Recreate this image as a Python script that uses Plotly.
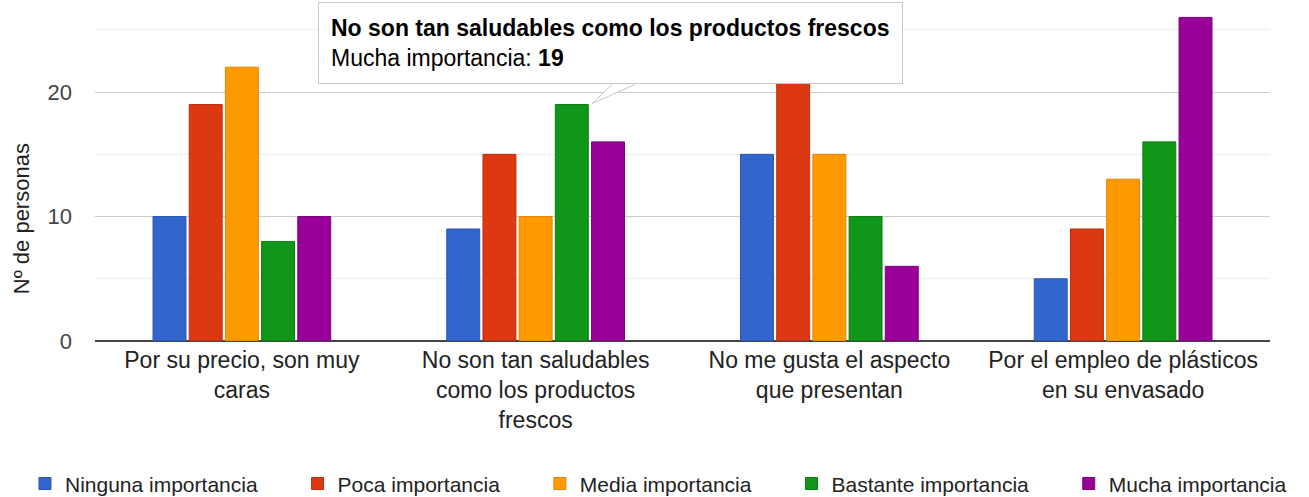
import plotly.graph_objects as go

categories = [
    "Por su precio, son muy<br>caras",
    "No son tan saludables<br>como los productos<br>frescos",
    "No me gusta el aspecto<br>que presentan",
    "Por el empleo de plásticos<br>en su envasado",
]
series_names = ["Ninguna importancia", "Poca importancia", "Media importancia",
                "Bastante importancia", "Mucha importancia"]
ninguna = [10, 9, 15, 5]
poca = [19, 15, 21, 9]
media = [22, 10, 15, 13]
bastante = [8, 19, 10, 16]
mucha = [10, 16, 6, 26]
series_values = [ninguna, poca, media, bastante, mucha]
colors = ["#3366cc", "#dc3912", "#ff9900", "#109618", "#990099"]
edge_colors = ["#2a55b0", "#b92e0e", "#e08700", "#0b7c12", "#7d007d"]
y_ticks = [0, 10, 20]

PAD = "\u00a0" * 6  # extra spacing between legend entries

fig = go.Figure()
n_series = len(series_names)
for i, (name, vals, c, ec) in enumerate(zip(series_names, series_values, colors, edge_colors)):
    fig.add_trace(go.Bar(
        x=categories, y=vals, name=name + (PAD if i < n_series - 1 else ""),
        hovertemplate=name + ": %{y}<extra></extra>",
        marker=dict(color=c, line=dict(color=ec, width=1)),
    ))

font_family = "Arial, Liberation Sans, Helvetica, sans-serif"

# tooltip callout pointing at the green bar of the 2nd category
tip_x = 1.192
tip_y = bastante[1]
fig.add_shape(
    type="path", xref="x", yref="y",
    xsizemode="pixel", ysizemode="pixel",
    xanchor=tip_x, yanchor=tip_y,
    path="M 20,20 L 0,1 L 43,20",
    fillcolor="white", line=dict(color="#c8c8c8", width=1), layer="above",
)
fig.add_annotation(
    xref="paper", yref="paper", x=0.1898, y=0.754,
    xanchor="left", yanchor="bottom", align="left",
    text="<b>No son tan saludables como los productos frescos</b><br>Mucha importancia: <b>19</b>",
    showarrow=False, bgcolor="white", bordercolor="#c8c8c8", borderwidth=1,
    borderpad=12, font=dict(family=font_family, size=23, color="#000"),
)

# y-axis title
fig.add_annotation(
    xref="paper", yref="paper", x=-0.063, y=0.36,
    xanchor="center", yanchor="middle",
    text="Nº de personas", textangle=-90, showarrow=False,
    font=dict(family=font_family, size=22, color="#222"),
)

fig.update_layout(
    width=1309, height=497,
    margin=dict(l=95, r=39, t=0, b=156, autoexpand=False),
    paper_bgcolor="white", plot_bgcolor="white",
    barmode="group", bargap=0.384, bargroupgap=0.09,
    font=dict(family=font_family, size=21, color="#222"),
    showlegend=True,
    legend=dict(
        orientation="h",
        x=-0.0596, xanchor="left", y=-0.419, yanchor="middle",
        font=dict(family=font_family, size=21, color="#222"),
        itemwidth=30,
    ),
    xaxis=dict(
        showgrid=False, showline=False, ticks="", automargin=False,
        tickfont=dict(family=font_family, size=23, color="#222"),
        ticklabelstandoff=3,
    ),
    yaxis=dict(
        range=[0, 27.4], tickvals=y_ticks, automargin=False,
        showgrid=True, gridcolor="#cccccc", gridwidth=1,
        minor=dict(dtick=5, showgrid=True, gridcolor="#ececec", gridwidth=1),
        zeroline=True, zerolinecolor="#444", zerolinewidth=2,
        tickfont=dict(family=font_family, size=22, color="#444"),
        ticklabelstandoff=22, fixedrange=True,
    ),
)

fig.write_html("out.html", config={"displayModeBar": False},
               post_script="document.body.style.margin='0';")
